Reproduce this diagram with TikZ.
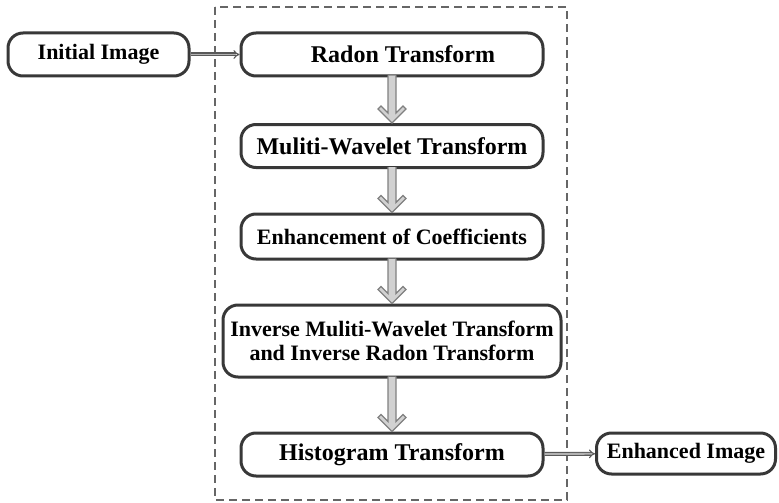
\documentclass[tikz,border=0pt]{standalone}
\usepackage{fontspec}
\setmainfont{Liberation Serif}
\usepackage{tikz}
\usetikzlibrary{arrows.meta,calc}
\colorlet{boxline}{black!78}
\colorlet{arrowline}{black!50}
\colorlet{arrowfill}{black!18}
\tikzset{
    Step/.style = {draw=boxline,line width=3pt,rounded corners=15pt,fill=white,
        font=\fontsize{24}{25}\selectfont\bfseries,align=center,inner sep=0pt,
        minimum width=#1,minimum height=43pt},
    Step/.default = 302pt,
    Small/.style = {font=\fontsize{22}{24.5}\selectfont\bfseries},
    Feed/.style = {draw=black!65,line width=1.1pt,double=black!30,
        double distance=1.8pt,-{Implies}}
}
% hollow block arrow with an open chevron head, from #1.south down to #2.north
\newcommand{\flowarrow}[2]{%
    \fill[arrowfill] ($(#1.south)+(-4,-2)$) -- ($(#2.north)+(-4,-10)$)
        -- ($(#2.north)+(-11,-17)$) -- ($(#2.north)+(-14,-14)$) -- (#2.north)
        -- ($(#2.north)+(14,-14)$) -- ($(#2.north)+(11,-17)$)
        -- ($(#2.north)+(4,-10)$) -- ($(#1.south)+(4,-2)$) -- cycle;
    \draw[arrowline,line width=1.3pt,line join=miter]
        ($(#1.south)+(-4,-2)$) -- ($(#2.north)+(-4,-10)$)
        -- ($(#2.north)+(-11,-17)$) -- ($(#2.north)+(-14,-14)$) -- (#2.north)
        -- ($(#2.north)+(14,-14)$) -- ($(#2.north)+(11,-17)$)
        -- ($(#2.north)+(4,-10)$) -- ($(#1.south)+(4,-2)$);}

\begin{document}
\begin{tikzpicture}[x=1pt,y=-1pt]
    \useasboundingbox (0,0) rectangle (779,503);
    \draw[black!60,line width=1.6pt,dash pattern=on 8pt off 5pt] (215,7) rectangle (567,500);
    \node[Step=181pt,Small] (Init) at (98.5,54.5) {Initial Image};
    \node[Step] (Radon) at (392,54.5) {\hspace*{22pt}Radon Transform};
    \node[Step] (MWT) at (392,146) {Muliti-Wavelet Transform};
    \node[Step,Small,minimum height=45pt] (Coef) at (392,236.5) {Enhancement of Coefficients};
    \node[Step=338pt,Small,minimum height=72pt] (Inv) at (392,341)
        {Inverse Muliti-Wavelet Transform\\and Inverse Radon Transform};
    \node[Step] (Hist) at (392,454.5) {Histogram Transform};
    \node[Step=179pt,Small,minimum height=41pt] (Out) at (686,453.5) {Enhanced Image};
    \foreach \A/\B in {Radon/MWT,MWT/Coef,Coef/Inv,Inv/Hist}
        {\flowarrow{\A}{\B}}
    \draw[Feed] (Init) -- (Radon);
    \draw[Feed] (Hist) -- (Out);
\end{tikzpicture}
\end{document}
